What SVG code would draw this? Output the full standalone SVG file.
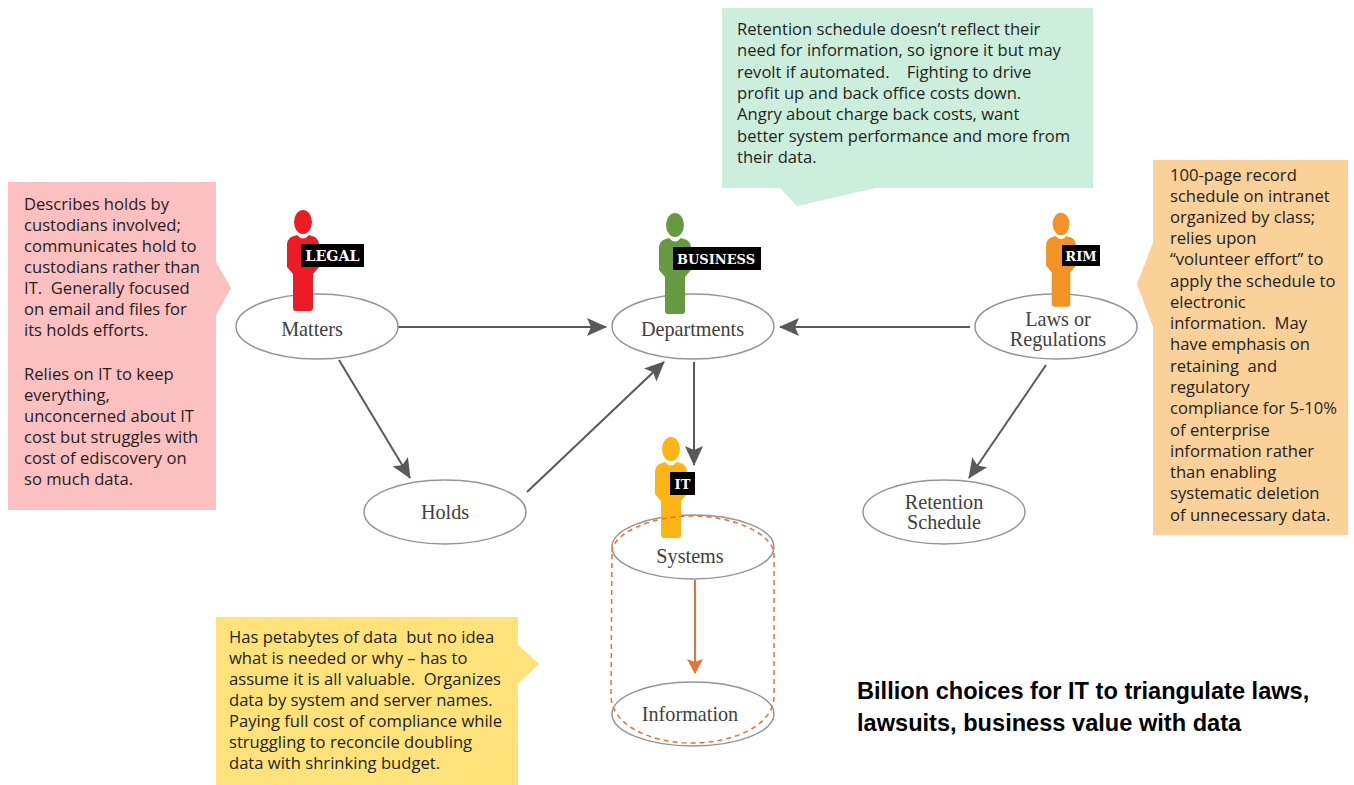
<svg xmlns="http://www.w3.org/2000/svg" width="1354" height="785" viewBox="0 0 1354 785">
<style>
.call{font-family:"Open Sans","Noto Sans","Liberation Sans",sans-serif;font-size:16.6px;fill:#231f20;white-space:pre}
.lab{font-family:"Liberation Serif","DejaVu Serif",serif;font-size:20.2px;fill:#414042;text-anchor:middle}
.badge{font-family:"DejaVu Serif","Liberation Serif",serif;font-size:13px;font-weight:bold;fill:#fff;text-anchor:middle}
.oval{fill:#fff;stroke:#939598;stroke-width:1.5}
.line{fill:none;stroke:#58595b;stroke-width:2}
.title{font-family:"Liberation Sans",Arial,sans-serif;font-size:23.6px;font-weight:bold;fill:#000}
</style>
<defs>
<marker id="ag" markerUnits="userSpaceOnUse" markerWidth="22" markerHeight="22" viewBox="0 0 22 22" refX="19" refY="11" orient="auto"><path d="M0,2 L20,11 L0,20 L4,11 Z" fill="#58595b"/></marker>
<marker id="ao" markerUnits="userSpaceOnUse" markerWidth="16" markerHeight="18" viewBox="0 0 16 18" refX="14" refY="9" orient="auto"><path d="M0,1 L15,9 L0,17 L3,9 Z" fill="#e97132"/></marker>
<g id="person">
<ellipse cx="0" cy="0" rx="9" ry="12"/>
<path d="M-6,13 Q0,20 6,13 L12,15 Q16,18 16,23 L16,45 L10,52 L10,86 Q10,89 7,89 L-7,89 Q-10,89 -10,86 L-10,52 L-16,45 L-16,23 Q-16,18 -12,15 Z"/>
</g>
</defs>
<rect width="1354" height="785" fill="#fff"/>

<g id="connectors">
<line class="line" x1="398" y1="327" x2="606" y2="327" marker-end="url(#ag)"/>
<line class="line" x1="970" y1="327" x2="780" y2="327" marker-end="url(#ag)"/>
<line class="line" x1="339" y1="360" x2="410" y2="478" marker-end="url(#ag)"/>
<line class="line" x1="527" y1="492" x2="664" y2="362" marker-end="url(#ag)"/>
<line class="line" x1="694" y1="362" x2="694" y2="465" marker-end="url(#ag)"/>
<line class="line" x1="1046" y1="365" x2="969" y2="478" marker-end="url(#ag)"/>
</g>

<g id="callout-legal">
<path d="M8,182 H216 V262 L231,288 L216,315 V510 H8 Z" fill="#fcc0c0"/>
<text class="call"><tspan x="24" y="210">Describes holds by</tspan><tspan x="24" y="231">custodians involved;</tspan><tspan x="24" y="252">communicates hold to</tspan><tspan x="24" y="273">custodians rather than</tspan><tspan x="24" y="294">IT.  Generally focused</tspan><tspan x="24" y="315">on email and files for</tspan><tspan x="24" y="336">its holds efforts.</tspan><tspan x="24" y="380">Relies on IT to keep</tspan><tspan x="24" y="401">everything,</tspan><tspan x="24" y="422">unconcerned about IT</tspan><tspan x="24" y="443">cost but struggles with</tspan><tspan x="24" y="464">cost of ediscovery on</tspan><tspan x="24" y="485">so much data.</tspan></text>
</g>
<g id="callout-business">
<path d="M722,8 H1093 V188 H876 L797,206 L780,188 H722 Z" fill="#ccefdd"/>
<text class="call"><tspan x="737" y="35">Retention schedule doesn’t reflect their</tspan><tspan x="737" y="56">need for information, so ignore it but may</tspan><tspan x="737" y="78">revolt if automated.    Fighting to drive</tspan><tspan x="737" y="99">profit up and back office costs down.</tspan><tspan x="737" y="120">Angry about charge back costs, want</tspan><tspan x="737" y="142">better system performance and more from</tspan><tspan x="737" y="163">their data.</tspan></text>
</g>
<g id="callout-rim">
<path d="M1153,160 H1348 V535 H1153 V327 L1137,284 L1153,243 Z" fill="#f9d199"/>
<text class="call"><tspan x="1170" y="181">100-page record</tspan><tspan x="1170" y="202">schedule on intranet</tspan><tspan x="1170" y="223">organized by class;</tspan><tspan x="1170" y="244">relies upon</tspan><tspan x="1170" y="265">“volunteer effort” to</tspan><tspan x="1170" y="287">apply the schedule to</tspan><tspan x="1170" y="308">electronic</tspan><tspan x="1170" y="329">information.  May</tspan><tspan x="1170" y="350">have emphasis on</tspan><tspan x="1170" y="372">retaining  and</tspan><tspan x="1170" y="393">regulatory</tspan><tspan x="1170" y="414">compliance for 5-10%</tspan><tspan x="1170" y="436">of enterprise</tspan><tspan x="1170" y="457">information rather</tspan><tspan x="1170" y="478">than enabling</tspan><tspan x="1170" y="499">systematic deletion</tspan><tspan x="1170" y="521">of unnecessary data.</tspan></text>
</g>
<g id="callout-it">
<path d="M216,617 H518 V645 L539,664 L518,684 V785 H216 Z" fill="#ffe37a"/>
<text class="call"><tspan x="229" y="643">Has petabytes of data  but no idea</tspan><tspan x="229" y="664">what is needed or why – has to</tspan><tspan x="229" y="685">assume it is all valuable.  Organizes</tspan><tspan x="229" y="706">data by system and server names.</tspan><tspan x="229" y="727">Paying full cost of compliance while</tspan><tspan x="229" y="748">struggling to reconcile doubling</tspan><tspan x="229" y="769">data with shrinking budget.</tspan></text>
</g>

<g id="node-matters">
<ellipse class="oval" cx="317" cy="326.500" rx="81" ry="32.500"/>
<use href="#person" x="303" y="222" fill="#ed1c24"/>
<rect x="301" y="244" width="63" height="23" fill="#000"/>
<text class="badge" x="332.500" y="261" style="font-size:14.300px">LEGAL</text>
<text class="lab" x="312" y="336">Matters</text>
</g>
<g id="node-departments">
<ellipse class="oval" cx="693" cy="326.500" rx="81" ry="32.500"/>
<use href="#person" x="675" y="225" fill="#659a41"/>
<rect x="673" y="247" width="88" height="23" fill="#000"/>
<text class="badge" x="716" y="264">BUSINESS</text>
<text class="lab" x="692.500" y="336">Departments</text>
</g>
<g id="node-laws">
<ellipse class="oval" cx="1056" cy="326.500" rx="81" ry="32.500"/>
<use href="#person" transform="translate(1061 224) scale(.93)" fill="#f39325"/>
<rect x="1062" y="245" width="38" height="21" fill="#000"/>
<text class="badge" x="1081" y="261">RIM</text>
<text class="lab" x="1058" y="326">Laws or</text>
<text class="lab" x="1058" y="346">Regulations</text>
</g>
<g id="node-holds">
<ellipse class="oval" cx="445" cy="512" rx="81" ry="32"/>
<text class="lab" x="445" y="519">Holds</text>
</g>
<g id="node-retention">
<ellipse class="oval" cx="944" cy="512" rx="81" ry="32"/>
<text class="lab" x="944" y="509">Retention</text>
<text class="lab" x="944" y="529">Schedule</text>
</g>
<g id="node-systems">
<ellipse class="oval" cx="693" cy="547" rx="81" ry="32"/>
<use href="#person" x="671" y="449" fill="#fdb515"/>
<rect x="670" y="472" width="25" height="23" fill="#000"/>
<text class="badge" x="682.500" y="489">IT</text>
<text class="lab" x="690" y="563">Systems</text>
</g>
<g id="node-information">
<ellipse class="oval" cx="693" cy="714" rx="81" ry="32"/>
<text class="lab" x="690" y="721">Information</text>
</g>
<g id="store">
<path d="M612,552 C612,534 650,516 692,516 C734,516 774,534 774,555 V695 C775,725 734,743 692,743 C650,743 611,725 611,695 Z" fill="none" stroke="#e97132" stroke-width="1.500" stroke-dasharray="5 4"/>
<line x1="695" y1="580" x2="695" y2="673" stroke="#e97132" stroke-width="2" marker-end="url(#ao)"/>
</g>

<text class="title"><tspan x="857" y="699">Billion choices for IT to triangulate laws,</tspan><tspan x="857" y="731">lawsuits, business value with data</tspan></text>
</svg>
